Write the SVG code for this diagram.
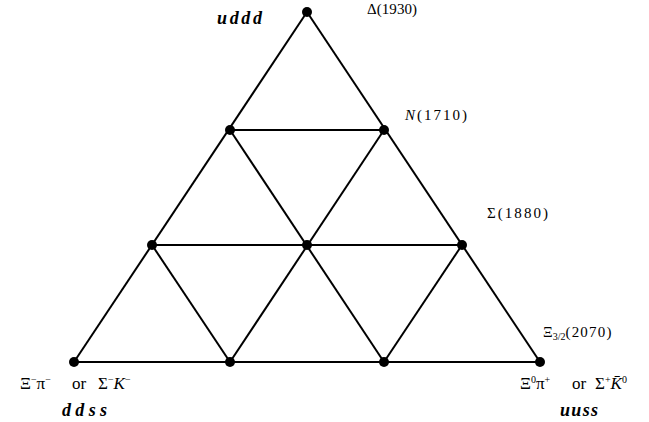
<svg xmlns="http://www.w3.org/2000/svg" width="649" height="422" viewBox="0 0 649 422">
<style>
.e{stroke:#000;stroke-width:2;fill:none}
.n{fill:#000}
.t{font-family:"Liberation Serif",serif;font-size:15px;fill:#000}
.b{font-family:"Liberation Serif",serif;font-size:17px;fill:#000}
.q{font-family:"Liberation Serif",serif;font-size:18px;font-style:italic;font-weight:bold;fill:#000}
.s{font-size:10px}
</style>
<rect width="649" height="422" fill="#fff"/>
<g id="connectors">
<line class="e" x1="307" y1="12" x2="74" y2="362"/>
<line class="e" x1="307" y1="12" x2="540" y2="362"/>
<line class="e" x1="74" y1="362" x2="540" y2="362"/>
<line class="e" x1="230" y1="130" x2="384" y2="130"/>
<line class="e" x1="152" y1="245" x2="462" y2="245"/>
<line class="e" x1="230" y1="130" x2="384" y2="362"/>
<line class="e" x1="384" y1="130" x2="230" y2="362"/>
<line class="e" x1="152" y1="245" x2="230" y2="362"/>
<line class="e" x1="462" y1="245" x2="384" y2="362"/>
</g>
<g id="n1"><circle class="n" cx="307" cy="12" r="5"/></g>
<g id="n2"><circle class="n" cx="230" cy="130" r="5"/></g>
<g id="n3"><circle class="n" cx="384" cy="130" r="5"/></g>
<g id="n4"><circle class="n" cx="152" cy="245" r="5"/></g>
<g id="n5"><circle class="n" cx="307" cy="245" r="5"/></g>
<g id="n6"><circle class="n" cx="462" cy="245" r="5"/></g>
<g id="n7"><circle class="n" cx="74" cy="362" r="5"/></g>
<g id="n8"><circle class="n" cx="230" cy="362" r="5"/></g>
<g id="n9"><circle class="n" cx="384" cy="362" r="5"/></g>
<g id="n10"><circle class="n" cx="540" cy="362" r="5"/></g>
<g id="labels">
<text class="q" x="217" y="24" textLength="45" lengthAdjust="spacing">uddd</text>
<text class="t" x="367" y="14" textLength="50" lengthAdjust="spacing">Δ(1930)</text>
<text class="t" x="405" y="120" textLength="62" lengthAdjust="spacing"><tspan font-style="italic">N</tspan>(1710)</text>
<text class="t" x="487" y="218" textLength="61" lengthAdjust="spacing">Σ(1880)</text>
<text class="t" x="543" y="337">Ξ<tspan class="s" dy="3">3/2</tspan><tspan dy="-3" textLength="46" lengthAdjust="spacing">(2070)</tspan></text>
<text class="b" x="20" y="389">Ξ<tspan class="s" dy="-6">−</tspan><tspan dy="6">π</tspan><tspan class="s" dy="-6">−</tspan></text>
<text class="b" x="72" y="389">or</text>
<text class="b" x="98" y="389">Σ<tspan class="s" dy="-6">−</tspan><tspan dy="6" font-style="italic">K</tspan><tspan class="s" dy="-6">−</tspan></text>
<text class="q" x="62" y="416" textLength="45" lengthAdjust="spacing">ddss</text>
<text class="b" x="520" y="389">Ξ<tspan class="s" dy="-6">0</tspan><tspan dy="6">π</tspan><tspan class="s" dy="-6">+</tspan></text>
<text class="b" x="572" y="389">or</text>
<text class="b" x="595" y="389">Σ<tspan class="s" dy="-6">+</tspan><tspan dy="6" font-style="italic">K̄</tspan><tspan class="s" dy="-6">0</tspan></text>
<text class="q" x="560" y="416" textLength="38" lengthAdjust="spacing">uuss</text>
</g>
</svg>
